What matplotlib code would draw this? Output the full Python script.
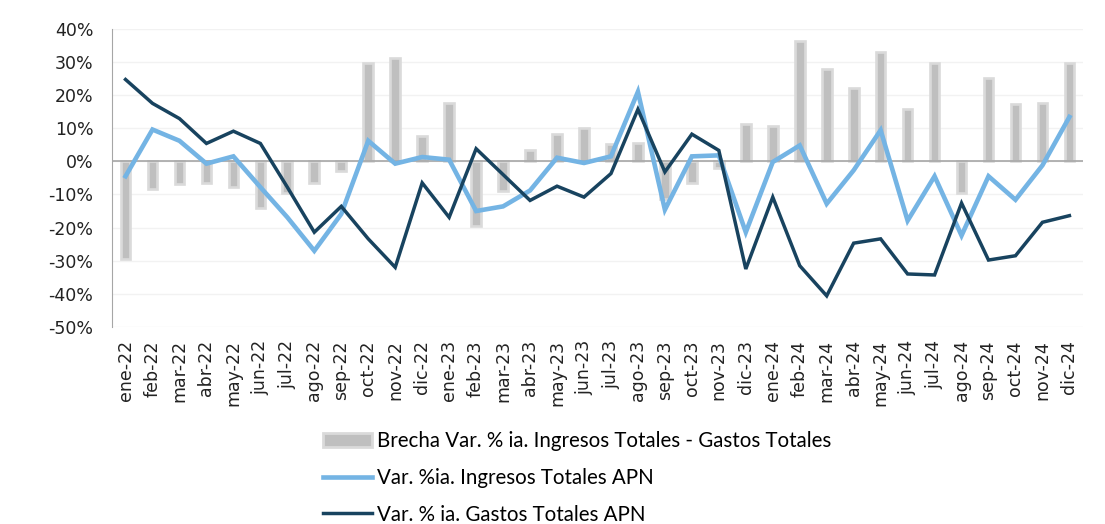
import numpy as np
import matplotlib.pyplot as plt
from matplotlib.patches import Patch
from matplotlib.lines import Line2D
from matplotlib.ticker import FuncFormatter

plt.rcParams['font.family'] = ['Lato', 'DejaVu Sans']

months = ["ene-22", "feb-22", "mar-22", "abr-22", "may-22", "jun-22", "jul-22", "ago-22",
          "sep-22", "oct-22", "nov-22", "dic-22", "ene-23", "feb-23", "mar-23", "abr-23",
          "may-23", "jun-23", "jul-23", "ago-23", "sep-23", "oct-23", "nov-23", "dic-23",
          "ene-24", "feb-24", "mar-24", "abr-24", "may-24", "jun-24", "jul-24", "ago-24",
          "sep-24", "oct-24", "nov-24", "dic-24"]

# var. % ia. ingresos totales APN
ingresos = [-4.5, 9.6, 6.2, -0.7, 1.5, -7.8, -16.9, -27.0, -15.9, 6.2, -0.7, 1.3,
            0.5, -15.0, -13.6, -8.8, 1.1, -0.5, 1.5, 21.0, -14.6, 1.5, 1.8, -21.4,
            -0.2, 4.8, -12.8, -2.7, 9.4, -17.9, -4.5, -22.4, -4.5, -11.6, -1.2, 13.4]

# var. % ia. gastos totales APN
gastos = [24.7, 17.5, 12.9, 5.4, 9.1, 5.4, -7.8, -21.4, -13.6, -23.4, -32.0, -6.5,
          -16.9, 3.8, -4.0, -11.8, -7.5, -10.8, -3.7, 15.7, -3.2, 8.2, 3.3, -32.5,
          -10.8, -31.5, -40.6, -24.7, -23.4, -34.0, -34.3, -12.6, -29.8, -28.5, -18.4, -16.4]

# brecha ingresos - gastos
brecha = [-29.5, -8.3, -6.8, -6.6, -7.6, -14.1, -9.6, -6.6, -2.9, 29.6, 31.1, 7.7,
          17.5, -19.4, -9.0, 3.3, 8.4, 10.2, 5.2, 5.6, -11.3, -6.5, -2.0, 11.4,
          10.6, 36.2, 27.8, 22.0, 32.9, 15.7, 29.6, -9.6, 25.1, 17.2, 17.5, 29.6]

light_blue = "#74B4E4"
dark_blue = "#18435F"
bar_gray = "#BFBFBF"
bar_edge = "#DADADA"
tick_font = ['DejaVu Sans']

x = np.arange(len(months))

fig = plt.figure(figsize=(11.05, 5.24), dpi=100)
ax = fig.add_axes([0.1014, 0.376, 0.8786, 0.569])

ax.bar(x, brecha, width=0.36, color=bar_gray, edgecolor=bar_edge, linewidth=1.9, zorder=2)
ax.axhline(0, color="#A6A6A6", linewidth=1.2, zorder=2.5)
ax.plot(x, ingresos, color=light_blue, linewidth=3.3, zorder=3, solid_joinstyle="miter")
ax.plot(x, gastos, color=dark_blue, linewidth=2.5, zorder=4, solid_joinstyle="miter")

ax.set_xlim(-0.5, 35.5)
ax.set_ylim(-50, 40)
ax.set_yticks(np.arange(-50, 41, 10))
ax.yaxis.set_major_formatter(FuncFormatter(lambda v, p: f"{v:.0f}%"))
ax.set_xticks(x)
ax.set_xticklabels(months, rotation=90)
ax.tick_params(axis="y", length=0, pad=13.5, labelsize=12.5, colors="#222222")
ax.tick_params(axis="x", length=0, pad=9.5, labelsize=12.5, colors="#222222")
for lab in ax.get_xticklabels() + ax.get_yticklabels():
    lab.set_family(tick_font)
ax.grid(axis="y", color="#F2F2F2", linewidth=1, zorder=0)
ax.set_axisbelow(True)
for side in ["top", "right", "bottom"]:
    ax.spines[side].set_visible(False)
ax.spines["left"].set_color("#A6A6A6")

handles = [
    Patch(facecolor=bar_gray, edgecolor=bar_edge, linewidth=2),
    Line2D([0], [0], color=light_blue, linewidth=3.3),
    Line2D([0], [0], color=dark_blue, linewidth=2.5),
]
labels = [
    "Brecha Var. % ia. Ingresos Totales - Gastos Totales",
    "Var. %ia. Ingresos Totales APN",
    "Var. % ia. Gastos Totales APN",
]
fig.legend(handles, labels, loc="upper left", bbox_to_anchor=(0.292, 0.177),
           frameon=False, fontsize=14.8, handlelength=2.38, handletextpad=0.25,
           labelspacing=0.81, handleheight=0.7, borderaxespad=0, borderpad=0)

fig.savefig("out.png", dpi=100, facecolor="white")
